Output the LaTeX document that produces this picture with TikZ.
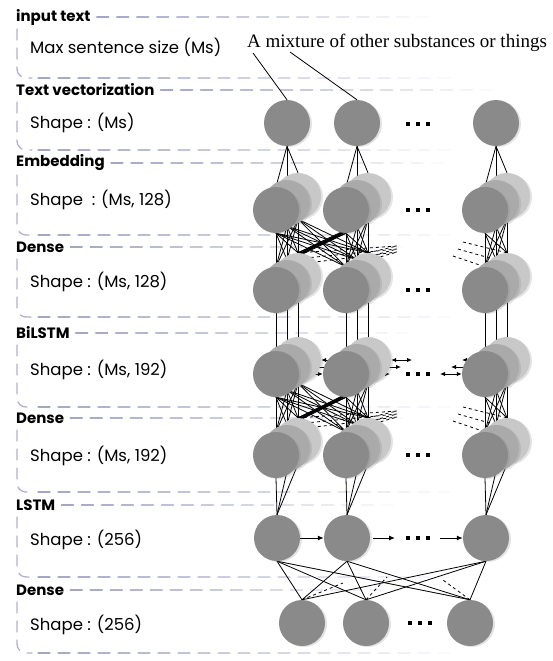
\documentclass[tikz,border=0pt]{standalone}
\usepackage{fontspec}
\setmainfont{Poppins}
\newfontfamily\timesf{Liberation Serif}
\usetikzlibrary{positioning,arrows.meta,shadows}
\definecolor{nfront}{RGB}{138,138,138}
\definecolor{nmid}{RGB}{170,170,170}
\definecolor{nback}{RGB}{200,200,200}
\definecolor{pedge}{RGB}{148,150,186}
\pgfdeclarelayer{back}
\pgfsetlayers{back,main}
\tikzset{
  neu/.style={circle,fill=nfront,minimum size=46pt,inner sep=0pt,drop shadow={opacity=0.22,shadow xshift=2pt,shadow yshift=-1pt}},
  wire/.style={line width=0.8pt},
  arr/.style={line width=1pt,-{Latex[length=6pt,width=5pt]}},
  biarr/.style={line width=1pt,{Latex[length=5pt,width=4.5pt]}-{Latex[length=5pt,width=4.5pt]}},
  dots/.style={minimum width=30pt,minimum height=6pt,inner sep=0pt,
    path picture={\foreach \s in {-10,0,10} \fill ([xshift=\s pt]path picture bounding box.center) +(-2pt,-2pt) rectangle +(2pt,2pt);}},
  ttl/.style={anchor=west,inner sep=0pt,font=\bfseries\fontsize{15}{15}\selectfont},
  lbl/.style={anchor=west,inner sep=0pt,font=\fontsize{16.5}{16.5}\selectfont},
  note/.style={anchor=base west,inner sep=0pt,font=\timesf\fontsize{19}{19}\selectfont},
  pline/.style={line width=1.3pt,line cap=round,draw=pedge},
  pside/.style={pline,draw=pedge!75,dash pattern=on 11pt off 8pt,rounded corners=9pt}
}

\begin{document}
\begin{tikzpicture}[x=1pt,y=-1pt]
  \useasboundingbox (0,0) rectangle (553,661);
  % neurons
  \foreach \c/\x in {1/276,2/346,4/485} {
    \node[neu] (T\c) at (\x+11,123) {};
    \foreach \ly/\y in {E/210,D/290,B/374,F/455}
      \foreach \k/\col in {2/nback,1/nmid,0/nfront}
        \node[neu,fill=\col] (\ly\c\k) at (\x+11*\k,\y-7*\k) {};
    \node[neu] (L\c) at (\x+1,538) {};
  }
  \node[neu] (O1) at (302,623) {}; \node[neu] (O2) at (366,623) {}; \node[neu] (O3) at (470,623) {};
  \foreach \ly/\y in {T/124,E/210,D/290,B/374,F/455,L/538} \node[dots] (dots\ly) at (418,\y) {};
  \node[dots] (dotsO) at (420,623) {};
  \node[note] (note) at (247,48) {A mixture of other substances or things};
  \coordinate (n1) at (253,53); \coordinate (n2) at (290,52);

  \begin{pgfonlayer}{back}
    % layer panels
    \foreach \ty/\ttl/\cy/\cont/\by [count=\i] in {17/input text/47/Max sentence size (Ms)/78,
        90/Text vectorization/123/Shape : (Ms)/150, 163/Embedding/200/{Shape~~: (Ms, 128)}/235,
        247/Dense/282/{Shape : (Ms, 128)}/317, 333/BiLSTM/370/{Shape : (Ms, 192)}/407,
        418/Dense/456/{Shape : (Ms, 192)}/492, 505/LSTM/540/Shape : (256)/577, 590/Dense/625/Shape : (256)/653} {
      \node[ttl] (title\i) at (16,\ty) {\ttl};
      \node[lbl] (body\i) at (30,\cy) {\cont};
      \foreach \k in {0,...,17} {\pgfmathtruncatemacro\pp{85-\k*5}
        \draw[pline,draw=pedge!\pp!white] ([xshift=6+20*\k]title\i.east) -- ++(12,0);}
      \draw[pside] (17,\ty+12) -- (17,\by) -- (32,\by);
      \foreach \k in {0,...,20} {\pgfmathtruncatemacro\pp{85-\k*4}
        \draw[pline,draw=pedge!\pp!white] (38+20*\k,\by) -- ++(12,0);}
    }
    % connections
    \draw[wire] (n1) -- (T1.north); \draw[wire] (n2) -- (T2.north);
    \foreach \c in {1,2,4} \foreach \k in {0,1,2} {
      \draw[wire] (T\c.south) -- (E\c\k.north);
      \draw[wire] (D\c\k.south) -- (B\c\k.north);
      \draw[wire] (F\c\k.south) -- (L\c.north);
    }
    \foreach \up/\lo/\yy in {E/D/290,B/F/455} {
      \foreach \a in {1,2} \foreach \b in {1,2} \foreach \i in {0,1,2} \foreach \j in {0,1,2}
        \draw[wire] (\up\a\i.south) -- (\lo\b\j.north);
      \foreach \i in {0,1,2} \foreach \j in {0,1,2} \draw[wire] (\up4\i.south) -- (\lo4\j.north);
      \foreach \k in {0,1,2} {
        \coordinate (\lo r\k) at (397,\yy-38-3*\k); \coordinate (\lo l\k) at (453+5*\k,\yy-34-7*\k);
        \draw[wire,dashed] (\lo1\k.north) -- (\lo r\k); \draw[wire,dashed] (\lo2\k.north) -- (\lo r\k);
        \draw[wire,dashed] (\lo l\k) -- (\lo4\k.north);
      }
    }
    \foreach \k in {0,1,2} {
      \coordinate (Br\k) at (390+11*\k,374-7*\k); \coordinate (Bl\k) at (440+11*\k,374-7*\k);
      \draw[biarr] (B1\k.east) -- (B2\k.west);
      \draw[biarr] (B2\k.east) -- (Br\k); \draw[biarr] (Bl\k) -- (B4\k.west);
    }
    \coordinate (Lr) at (395,538); \coordinate (Ll) at (440,538);
    \draw[arr] (L1.east) -- (L2.west); \draw[arr,shorten <=3pt] (L2.east) -- (Lr); \draw[arr] (Ll) -- (L4.west);
    \foreach \a in {1,2,4} \foreach \b in {1,2,3} \draw[wire] (L\a.south) -- (O\b.north);
    \coordinate (od1) at (343,583); \coordinate (od2) at (387,577); \coordinate (od3) at (443,580);
    \foreach \b in {1,2,3} \draw[wire,dashed] (O\b.north) -- (od\b);
  \end{pgfonlayer}
\end{tikzpicture}
\end{document}
